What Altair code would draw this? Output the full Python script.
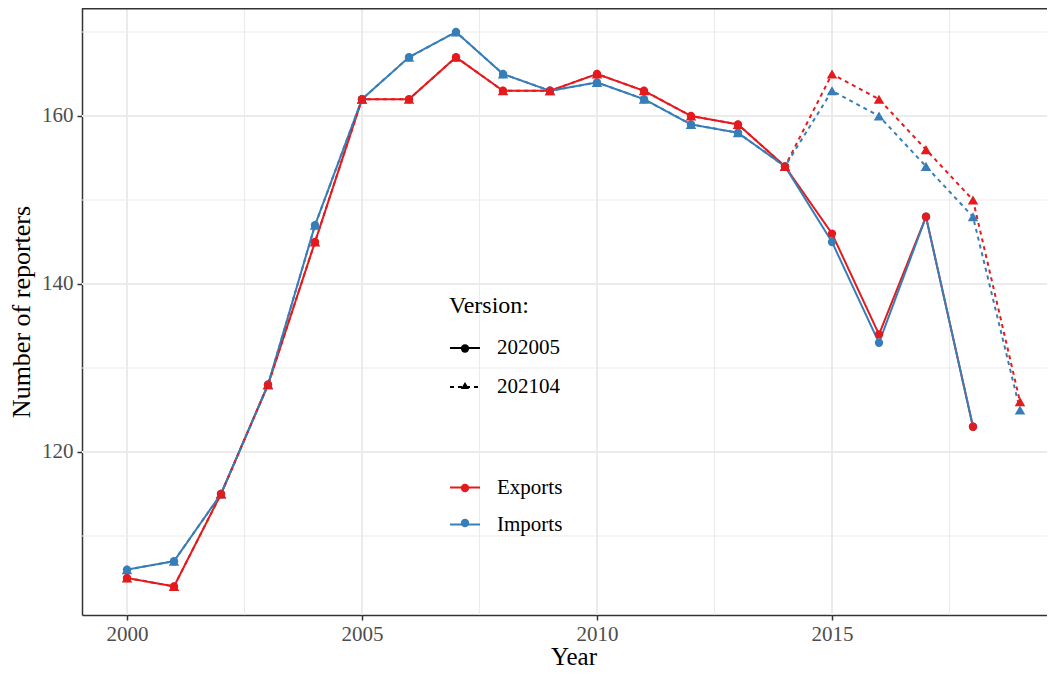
import altair as alt
import pandas as pd

# ---------------- data ----------------
years_202005 = list(range(2000, 2019))   # 2000..2018
years_202104 = list(range(2000, 2020))   # 2000..2019

exports_202005 = [105, 104, 115, 128, 145, 162, 162, 167, 163, 163, 165, 163, 160, 159, 154,
                  146, 134, 148, 123]
imports_202005 = [106, 107, 115, 128, 147, 162, 167, 170, 165, 163, 164, 162, 159, 158, 154,
                  145, 133, 148, 123]
exports_202104 = [105, 104, 115, 128, 145, 162, 162, 167, 163, 163, 165, 163, 160, 159, 154,
                  165, 162, 156, 150, 126]
imports_202104 = [106, 107, 115, 128, 147, 162, 167, 170, 165, 163, 164, 162, 159, 158, 154,
                  163, 160, 154, 148, 125]

flows = ["Exports", "Imports"]
flow_colors = ["#E41A1C", "#377EB8"]
versions = ["202005", "202104"]

x_ticks = [2000, 2005, 2010, 2015]
x_minor = [2002.5, 2007.5, 2012.5, 2017.5]
y_ticks = [120, 140, 160]
y_minor = [110, 130, 150, 170]

# ---------------- tables ----------------
def rows(version, flow, years, vals):
    return [{"Year": y, "Reporters": v, "Flow": flow, "Version": version} for y, v in zip(years, vals)]

df_lines = pd.DataFrame(rows("202005", "Exports", years_202005, exports_202005)
                        + rows("202005", "Imports", years_202005, imports_202005)
                        + rows("202104", "Exports", years_202104, exports_202104)
                        + rows("202104", "Imports", years_202104, imports_202104))

df_points = pd.DataFrame(rows("202005", "Imports", years_202005, imports_202005)
                         + rows("202005", "Exports", years_202005, exports_202005)
                         + rows("202104", "Imports", years_202104, imports_202104)
                         + rows("202104", "Exports", years_202104, exports_202104))

df_xmaj = pd.DataFrame({"Year": x_ticks})
df_xmin = pd.DataFrame({"Year": x_minor})
df_ymaj = pd.DataFrame({"Reporters": y_ticks})
df_ymin = pd.DataFrame({"Reporters": y_minor})
df_frame = pd.DataFrame({"k": [0]})

# ---------------- geometry ----------------
W, H = 965, 607
xscale = alt.Scale(domain=[1999.0426, 2019.5745], nice=False, zero=False)
yscale = alt.Scale(domain=[100.595, 172.857], nice=False, zero=False)

FONT = "Liberation Serif"
GRID = "#EBEBEB"
DARK = "#333333"

x_axis = alt.Axis(values=x_ticks, format="d", title="Year", grid=False,
                  domain=True, domainColor=DARK, domainWidth=1.5,
                  tickSize=5, tickColor=DARK, tickWidth=1.5, labelPadding=3,
                  labelFont=FONT, labelFontSize=21, labelColor="#4D4D4D",
                  titleFont=FONT, titleFontSize=25, titleFontWeight="normal",
                  titleColor="black", titlePadding=0, titleX=491.5)
y_axis = alt.Axis(values=y_ticks, format="d", title="Number of reporters", grid=False,
                  domain=True, domainColor=DARK, domainWidth=1.5,
                  tickSize=5, tickColor=DARK, tickWidth=1.5, labelPadding=4,
                  labelFont=FONT, labelFontSize=21, labelColor="#4D4D4D",
                  titleFont=FONT, titleFontSize=26, titleFontWeight="normal",
                  titleColor="black", titlePadding=7)

X = alt.X("Year:Q", scale=xscale, axis=x_axis)
Y = alt.Y("Reporters:Q", scale=yscale, axis=y_axis)

grid_xmaj = alt.Chart(df_xmaj).mark_rule(color=GRID, strokeWidth=2).encode(x=X)
grid_xmin = alt.Chart(df_xmin).mark_rule(color=GRID, strokeWidth=1.1).encode(x=X)
grid_ymaj = alt.Chart(df_ymaj).mark_rule(color=GRID, strokeWidth=2).encode(y=Y)
grid_ymin = alt.Chart(df_ymin).mark_rule(color=GRID, strokeWidth=1.1).encode(y=Y)

# top edge of the panel frame (the right edge lies beyond the picture in the reference)
frame_top = alt.Chart(df_frame).mark_rule(color=DARK, strokeWidth=1.5).encode(
    x=alt.value(0), x2=alt.value(W), y=alt.value(0.75))

# ---------------- legends (line keys + marker keys drawn on top of each other) ----------------
LEGX = 367
MARKER_X = 372.5
common = dict(orient="none", padding=0, labelFont=FONT, labelFontSize=21, labelColor="black",
              labelOffset=16, titleFont=FONT, titleFontSize=24,
              titleFontWeight="normal", titleColor="black", titlePadding=14)

leg_dash = alt.Legend(title="Version:", legendX=LEGX, legendY=286, rowPadding=13,
                      symbolType="stroke", symbolSize=900, symbolStrokeWidth=2,
                      symbolStrokeColor="black", **common)
leg_shape = alt.Legend(title=" ", legendX=MARKER_X, legendY=292, rowPadding=15,
                       symbolSize=70, symbolFillColor="black", symbolStrokeWidth=0,
                       labelExpr="' '", labelOpacity=0, titleOpacity=0, **common)
leg_color = alt.Legend(title=None, legendX=LEGX, legendY=463.5, rowPadding=11,
                       symbolType="stroke", symbolSize=900, symbolStrokeWidth=2, **common)
leg_fill = alt.Legend(title=None, legendX=MARKER_X, legendY=469.5, rowPadding=13,
                      symbolType="circle", symbolSize=70, symbolStrokeWidth=0,
                      labelExpr="' '", labelOpacity=0, **common)

lines = alt.Chart(df_lines).mark_line(strokeWidth=2).encode(
    x=X, y=Y,
    color=alt.Color("Flow:N", scale=alt.Scale(domain=flows, range=flow_colors), legend=leg_color),
    strokeDash=alt.StrokeDash("Version:N", scale=alt.Scale(domain=versions, range=[[1, 0], [4, 4]]),
                              legend=leg_dash),
)

points = alt.Chart(df_points).mark_point(filled=True, opacity=1).encode(
    x=X, y=Y,
    fill=alt.Fill("Flow:N", scale=alt.Scale(range=flow_colors), legend=leg_fill),
    shape=alt.Shape("Version:N", scale=alt.Scale(range=["circle", "triangle-up"]), legend=leg_shape),
    size=alt.Size("Version:N", scale=alt.Scale(domain=versions[::-1], range=[110, 70]), legend=None),
)

chart = alt.layer(
    grid_xmin, grid_ymin, grid_xmaj, grid_ymaj, frame_top, lines, points
).properties(
    width=W, height=H,
    padding={"left": 74, "top": 0, "right": 0, "bottom": 53},
    autosize=alt.AutoSizeParams(type="none"),
    background="white",
).configure_view(strokeWidth=0).configure_legend(
    symbolBaseFillColor="black", symbolBaseStrokeColor="black")

chart.save("out.html", embed_options={"renderer": "svg", "actions": False})
